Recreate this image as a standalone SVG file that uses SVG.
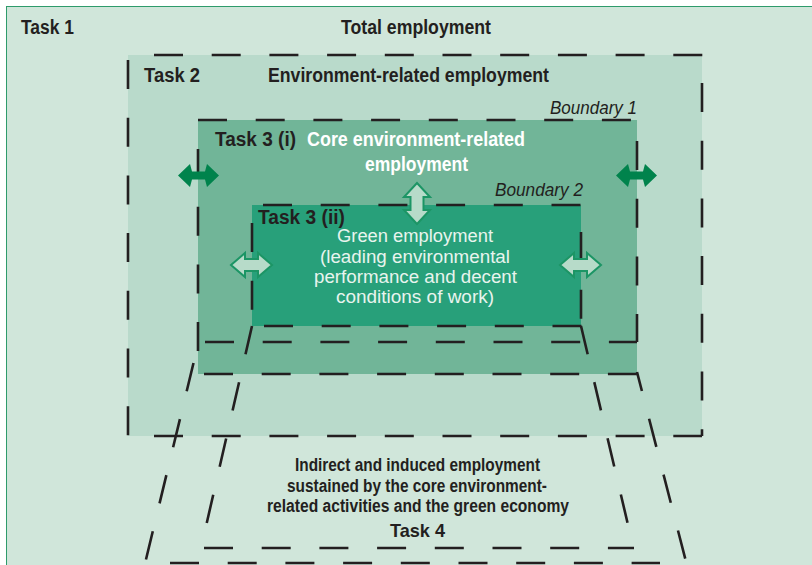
<svg xmlns="http://www.w3.org/2000/svg" width="812" height="565" viewBox="0 0 812 565">
  <style>
    .lbl { font-family: "Liberation Sans Narrow", "Liberation Sans", Arial, sans-serif; font-weight: bold; fill: #231f20; }
    .wht { font-family: "Liberation Sans Narrow", "Liberation Sans", Arial, sans-serif; font-weight: bold; fill: #ffffff; }
    .bnd { font-family: "Liberation Sans Narrow", "Liberation Sans", Arial, sans-serif; font-style: italic; fill: #231f20; font-size: 17.5px; }
    .grn { font-family: "Liberation Sans Narrow", "Liberation Sans", Arial, sans-serif; fill: #e8f4ee; font-size: 17.5px; }
    .dash { fill: none; stroke: #231f20; stroke-width: 2.6; stroke-dasharray: 29 28.7; }
    .solid { fill: #00834c; }
    .open { fill: #b7dbc9; stroke: #1c9565; stroke-width: 2; stroke-linejoin: miter; }
  </style>

  <rect x="0" y="0" width="812" height="565" fill="#ffffff"/>

  <g id="task1">
    <rect x="6.5" y="6.5" width="810" height="565" fill="#d0e6da" stroke="#2e9b6b" stroke-width="1"/>
    <text class="lbl" x="21" y="34" font-size="20" textLength="53" lengthAdjust="spacingAndGlyphs">Task 1</text>
    <text class="lbl" x="341" y="34" font-size="20" textLength="150" lengthAdjust="spacingAndGlyphs">Total employment</text>
  </g>

  <g id="task2">
    <rect x="128" y="55" width="574" height="381" fill="#b9dacb"/>
    <text class="lbl" x="144" y="82" font-size="20" textLength="56" lengthAdjust="spacingAndGlyphs">Task 2</text>
    <text class="lbl" x="268" y="82" font-size="20" textLength="281" lengthAdjust="spacingAndGlyphs">Environment-related employment</text>
    <text class="bnd" x="550" y="114" textLength="87" lengthAdjust="spacingAndGlyphs">Boundary 1</text>
  </g>

  <g id="task3i">
    <rect x="198" y="120" width="439" height="254" fill="#71b598"/>
    <text class="lbl" x="215" y="146" font-size="19.5" textLength="81" lengthAdjust="spacingAndGlyphs">Task 3 (i)</text>
    <text class="wht" x="307" y="146" font-size="19.5" textLength="218" lengthAdjust="spacingAndGlyphs">Core environment-related</text>
    <text class="wht" x="365" y="171" font-size="19.5" textLength="103" lengthAdjust="spacingAndGlyphs">employment</text>
    <text class="bnd" x="495" y="196" textLength="88" lengthAdjust="spacingAndGlyphs">Boundary 2</text>
  </g>

  <g id="task3ii">
    <rect x="252" y="205" width="329" height="121" fill="#28a07a"/>
    <text class="lbl" x="258" y="224" font-size="19.5" textLength="87" lengthAdjust="spacingAndGlyphs">Task 3 (ii)</text>
    <text class="grn" x="337" y="242" textLength="156" lengthAdjust="spacingAndGlyphs">Green employment</text>
    <text class="grn" x="320" y="263" textLength="190" lengthAdjust="spacingAndGlyphs">(leading environmental</text>
    <text class="grn" x="314" y="283" textLength="203" lengthAdjust="spacingAndGlyphs">performance and decent</text>
    <text class="grn" x="336" y="303" textLength="158" lengthAdjust="spacingAndGlyphs">conditions of work)</text>
  </g>

  <g id="task4">
    <text class="lbl" x="295" y="471" font-size="18" textLength="245" lengthAdjust="spacingAndGlyphs">Indirect and induced employment</text>
    <text class="lbl" x="287" y="492" font-size="18" textLength="260" lengthAdjust="spacingAndGlyphs">sustained by the core environment-</text>
    <text class="lbl" x="267" y="512" font-size="18" textLength="302" lengthAdjust="spacingAndGlyphs">related activities and the green economy</text>
    <text class="lbl" x="390" y="537" font-size="19" textLength="55" lengthAdjust="spacingAndGlyphs">Task 4</text>
  </g>

  <g id="boundaries">
    <!-- Task 2 frame -->
    <path class="dash" d="M154,55 H703"/>
    <path class="dash" d="M702,83 V436"/>
    <path class="dash" d="M128,60 V436"/>
    <path class="dash" d="M154,436 H702"/>
    <!-- Boundary 1 -->
    <path class="dash" d="M198,120 H637"/>
    <path class="dash" d="M637,141 V342"/>
    <path class="dash" d="M198,149 V351"/>
    <path class="dash" d="M205,342 H637"/>
    <path class="dash" d="M204,374 H637"/>
    <!-- Boundary 2 -->
    <path class="dash" d="M263,205 H581"/>
    <path class="dash" d="M581,232 V326"/>
    <path class="dash" d="M252,223 V326"/>
    <path class="dash" d="M264,326 H582"/>
    <!-- Task 4 perspective -->
    <path class="dash" d="M252,326 L201,548"/>
    <path class="dash" d="M581,326 L633.5,548"/>
    <path class="dash" d="M204,548 H634"/>
    <path class="dash" d="M193.5,363 L139.8,585"/>
    <path class="dash" d="M637,372 L690,577" stroke-dashoffset="9.4"/>
    <path class="dash" d="M170,563 H660"/>
  </g>

  <g id="connectors">
    <polygon class="solid" points="178,175.5 190,164 192,171.5 205,171.5 207,164 219,175.5 207,187 205,179.5 192,179.5 190,187"/>
    <polygon class="solid" points="616,175.5 628,164 630,171.5 643,171.5 645,164 657,175.5 645,187 643,179.5 630,179.5 628,187"/>
    <polygon class="open" points="231,265 245,253 245,259 258,259 258,253 272,265 258,277 258,271 245,271 245,277"/>
    <polygon class="open" points="560,265 574,253 574,259 587,259 587,253 601,265 587,277 587,271 574,271 574,277"/>
    <polygon class="open" points="417,183 430,197 423.5,197 423.5,210 430,210 417,224 404,210 410.5,210 410.5,197 404,197"/>
  </g>
</svg>
